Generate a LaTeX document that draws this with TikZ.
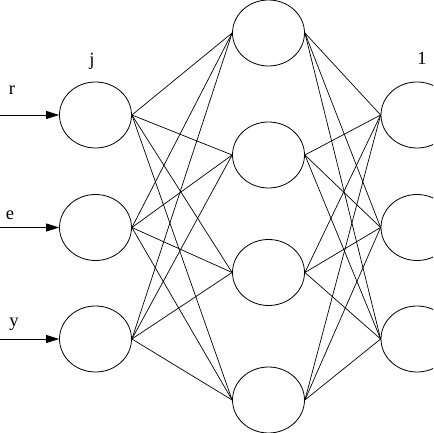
\documentclass[tikz,border=0pt]{standalone}
\usepackage{fontspec}
\setmainfont{Liberation Serif}
\usetikzlibrary{shapes.geometric,arrows.meta}
\begin{document}
\begin{tikzpicture}[x=1pt,y=1pt,
  neuron/.style={draw,ellipse,minimum width=72pt,minimum height=66pt,inner sep=0pt,line width=0.8pt},
  link/.style={line width=0.7pt},
  inarrow/.style={line width=0.7pt,-{Triangle[length=13pt,width=8pt]}},
  lbl/.style={font=\fontsize{18.5}{21}\selectfont,inner sep=0pt}]
\useasboundingbox (0,0) rectangle (433,433);
\clip (0,0) rectangle (433,433);
\node[neuron] (i1) at (95.5,318) {};
\node[neuron] (i2) at (95.5,205.5) {};
\node[neuron] (i3) at (95.5,94) {};
\node[neuron] (h1) at (268.5,400) {};
\node[neuron] (h2) at (268.5,278) {};
\node[neuron] (h3) at (268.5,160.5) {};
\node[neuron] (h4) at (268.5,33) {};
\node[neuron] (o1) at (417,318) {};
\node[neuron] (o2) at (417,205.5) {};
\node[neuron] (o3) at (417,94) {};
\coordinate (a1) at (0,318);
\coordinate (a2) at (0,205.5);
\coordinate (a3) at (0,94);
\draw[inarrow] (a1) -- (i1.west);
\draw[inarrow] (a2) -- (i2.west);
\draw[inarrow] (a3) -- (i3.west);
\foreach \i in {1,2,3}{
  \foreach \h in {1,2,3,4}{
    \draw[link] (i\i.east) -- (h\h.west);
    \draw[link] (h\h.east) -- (o\i.west);
  }
}
\node[lbl] (lj) at (92,372) {j};
\node[lbl] (lr) at (12,343) {r};
\node[lbl] (le) at (10,218) {e};
\node[lbl] (ly) at (14,109) {y};
\node[lbl] (l1) at (422,375) {1};
\end{tikzpicture}
\end{document}
